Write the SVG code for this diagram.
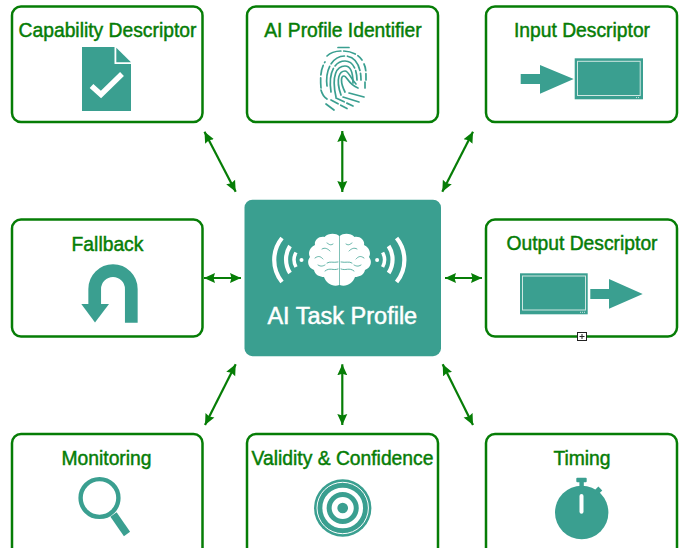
<svg xmlns="http://www.w3.org/2000/svg" width="681" height="548" viewBox="0 0 681 548">
<style>
.box{fill:#fff;stroke:#067d06;stroke-width:2.5}
.t{font-family:"Liberation Sans",Arial,sans-serif;font-size:19.300px;fill:#067d06;stroke:#067d06;stroke-width:.45;text-anchor:middle}
.i{fill:#3a9f90}
.l{fill:none;stroke:#3a9f90}
.w{fill:none;stroke:#fff}
.c line{stroke:#067d06;stroke-width:2.200;marker-start:url(#a);marker-end:url(#a)}
.fp{fill:none;stroke:#3a9f90;stroke-width:1.700;stroke-linecap:round}
.fis{fill:none;stroke:#3a9f90;stroke-width:.8;stroke-linecap:round}
</style>
<defs>
<marker id="a" markerUnits="userSpaceOnUse" markerWidth="12" markerHeight="12" refX="11" refY="5.500" orient="auto-start-reverse"><path d="M0 0.500L11 5.500L0 10.500L1.500 5.500Z" fill="#067d06"/></marker>
<g id="br"><path fill="#fff" d="M339.200 236C336 233 328 233 324.500 237C318 236 314 241 315 245C310 247 307.500 253 310 257C306.500 261 308 268 314 270C315 275 320 277 324 277C326 283 333 287.500 339.200 285Z"/>
<path class="fis" d="M333 244C330 246 329 244 327 243M322 249C325 247 328 249 330 251M315 258C319 255 321 257 323 259M338 262C333 263 330 261 327 263M325 271C330 267 333 271 338 269M318 265C321 267 323 266 325 265"/></g>
</defs>

<g class="c" id="connectors">
<line x1="204.500" y1="131.700" x2="235.700" y2="191.700"/>
<line x1="342.300" y1="131" x2="342.300" y2="192"/>
<line x1="473" y1="131.700" x2="442.300" y2="191.700"/>
<line x1="204" y1="278" x2="241" y2="278"/>
<line x1="445" y1="278" x2="482" y2="278"/>
<line x1="235.700" y1="364.300" x2="205" y2="425"/>
<line x1="342.300" y1="364.300" x2="342.300" y2="425"/>
<line x1="442.700" y1="364.300" x2="473" y2="425"/>
</g>

<g id="capability-descriptor">
<rect class="box" x="12" y="6.500" width="190.500" height="115.500" rx="9"/>
<text class="t" x="107.500" y="37">Capability Descriptor</text>
<path class="i" d="M82 47H114.500V64H131V111H82Z"/>
<path class="i" d="M116.300 47.700L131 62.300H116.300Z"/>
<path class="w" stroke-width="5.500" d="M91.500 86L101 94.500L122 74"/>
</g>

<g id="ai-profile-identifier">
<rect class="box" x="247" y="6.500" width="191" height="115.500" rx="9"/>
<text class="t" x="343" y="37">AI Profile Identifier</text>
<g class="fp">
<path d="M338 47.500H349"/>
<path d="M327 56C332 51 338 51 343 51C350 51 358 54 362 60" stroke-dasharray="15 3 12 3"/>
<path d="M364 64C366 68 366 72 366 80" stroke-dasharray="7 3"/>
<path d="M365 82V88"/>
<path d="M321 88C320 76 321 68 325 62" stroke-dasharray="10 3"/>
<path d="M327 86C325 70 332 56 345 56C355 56 361 66 361 80" stroke-dasharray="20 3 16 3"/>
<path d="M331 92C328 72 335 61 345 61C353 61 357 70 357 80" stroke-dasharray="24 3"/>
<path d="M336 97C331 75 337 66 345 66C351 66 353 74 353 83"/>
<path d="M341 95C335 78 340 71 345 71C349 71 350 78 356 84"/>
<path d="M345 92C340 82 341 76 344 76C347 76 348 84 358 88"/>
<path d="M321 90C322 94 324 97 327 99"/>
<path d="M326 104L334 110"/>
<path d="M331 100L347 108.500" stroke-dasharray="8 3"/>
<path d="M336 98L353 106" stroke-dasharray="9 3"/>
<path d="M343 97L359 102"/>
<path d="M349 93L364 97"/>
</g>
</g>

<g id="input-descriptor">
<rect class="box" x="486" y="6.500" width="191" height="115.500" rx="9"/>
<text class="t" x="582" y="37">Input Descriptor</text>
<path class="i" d="M520.700 74H540V65L573.700 79L540 93.700V84H520.700Z"/>
<rect class="i" x="574.700" y="58.300" width="68.300" height="41"/>
<rect x="577.500" y="61.300" width="62.700" height="34.200" fill="none" stroke="#cfe7e2" stroke-width="1"/>
<path stroke="#cfe7e2" stroke-width="1" stroke-dasharray="1 1" d="M636 97.600H640"/>
</g>

<g id="fallback">
<rect class="box" x="12" y="219.500" width="190.500" height="117" rx="9"/>
<text class="t" x="107.500" y="251">Fallback</text>
<path class="l" stroke-width="12.700" d="M131.300 322.700V289A18.300 18.300 0 0 0 94.700 289V305"/>
<path class="i" d="M81.300 304H109L95 322.400Z"/>
</g>

<g id="output-descriptor">
<rect class="box" x="486" y="219.500" width="191" height="117" rx="9"/>
<text class="t" x="582" y="250">Output Descriptor</text>
<rect class="i" x="520" y="273.300" width="67.700" height="41"/>
<rect x="522.500" y="276" width="63" height="34" fill="none" stroke="#cfe7e2" stroke-width="1"/>
<path stroke="#cfe7e2" stroke-width="1" stroke-dasharray="1 1" d="M580 312.300H585"/>
<path class="i" d="M590.300 289H609V279L642.700 294L609 308.700V299H590.300Z"/>
</g>

<g id="handle">
<rect x="577.500" y="332.500" width="9" height="8" fill="#fff" stroke="#222" stroke-width="1"/>
<path d="M579.500 336.500H584.500M582 334V339" stroke="#222" stroke-width="1"/>
</g>

<g id="ai-task-profile">
<rect x="244.500" y="199.700" width="196.500" height="156.500" rx="8" fill="#3a9f90"/>
<use href="#br"/>
<use href="#br" transform="matrix(-1 0 0 1 679 0)"/>
<g class="w" stroke-width="4.200">
<path d="M282 238A35 35 0 0 0 282 282"/>
<path d="M290 246A25 25 0 0 0 290 273"/>
<path stroke-width="3.500" d="M296 252.500A15 15 0 0 0 296 267"/>
<path d="M396.600 238A35 35 0 0 1 396.600 282"/>
<path d="M388.600 246A25 25 0 0 1 388.600 273"/>
<path stroke-width="3.500" d="M382.600 252.500A15 15 0 0 1 382.600 267"/>
</g>
<circle cx="301.500" cy="260" r="2" fill="#fff"/>
<circle cx="377.100" cy="260" r="2" fill="#fff"/>
<text x="342.300" y="323.700" font-family="'Liberation Sans',Arial,sans-serif" font-size="23.500" fill="#fff" stroke="#fff" stroke-width=".5" text-anchor="middle">AI Task Profile</text>
</g>

<g id="monitoring">
<rect class="box" x="12" y="434" width="190.500" height="130" rx="9"/>
<text class="t" x="106.500" y="465">Monitoring</text>
<circle class="l" cx="99.500" cy="498" r="18.900" stroke-width="4.400"/>
<path class="l" stroke-width="7.500" d="M113.500 514.500L127 534"/>
</g>

<g id="validity-confidence">
<rect class="box" x="247" y="434" width="191" height="130" rx="9"/>
<text class="t" x="342.500" y="465">Validity &amp; Confidence</text>
<circle class="i" cx="342.700" cy="508" r="28.700"/>
<circle cx="342.700" cy="508" r="25.700" fill="none" stroke="#fff" stroke-width="1"/>
<circle cx="342.700" cy="508" r="18.200" fill="none" stroke="#fff" stroke-width="4.300"/>
<circle cx="342.700" cy="508" r="8.200" fill="none" stroke="#fff" stroke-width="5.700"/>
</g>

<g id="timing">
<rect class="box" x="486" y="434" width="191" height="130" rx="9"/>
<text class="t" x="582" y="465">Timing</text>
<circle class="i" cx="581.700" cy="512.500" r="26.700"/>
<rect class="i" x="576.300" y="477.700" width="10.400" height="4.600" rx="1"/>
<rect class="i" x="579.400" y="481" width="4.400" height="8"/>
<rect class="i" x="595.500" y="487.500" width="5.500" height="6.500" transform="rotate(45 598 490.500)"/>
<rect x="579.500" y="494" width="4" height="19.700" rx="2" fill="#fff"/>
</g>
</svg>
